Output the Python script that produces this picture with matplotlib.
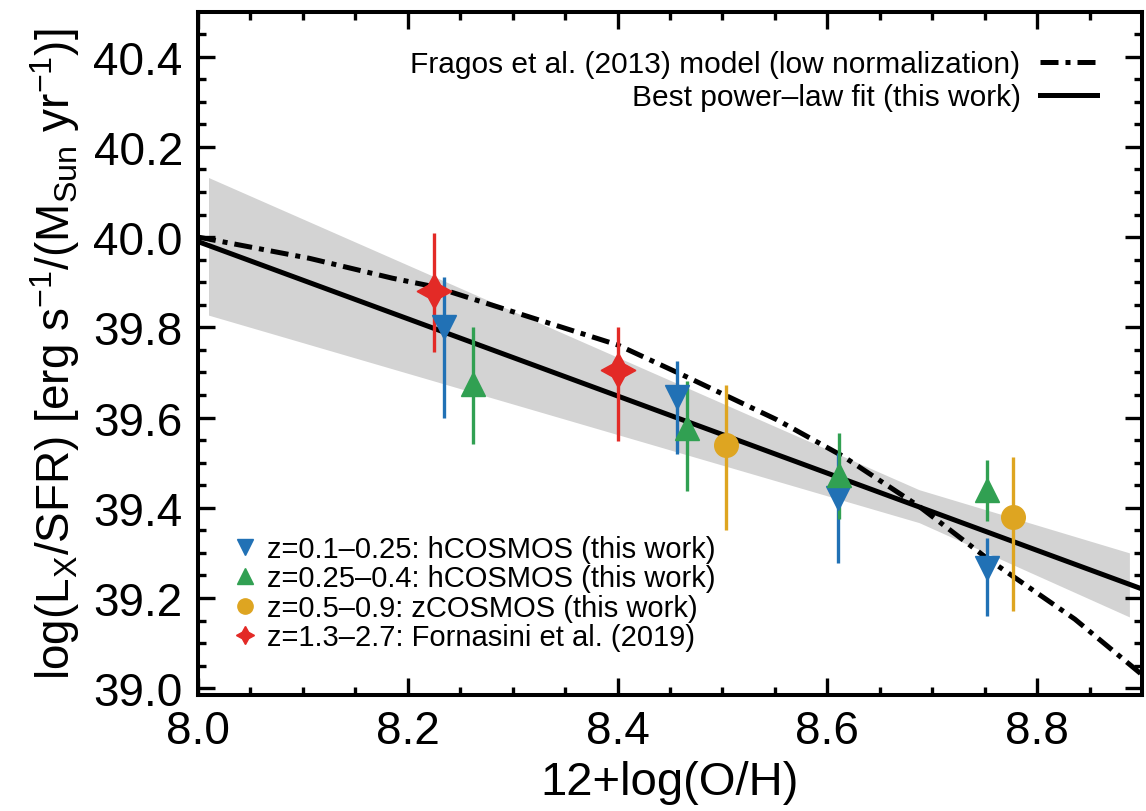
import matplotlib
matplotlib.use('Agg')
import matplotlib.pyplot as plt
from matplotlib.lines import Line2D

# ---- data ----
# z=0.1-0.25 hCOSMOS (down triangles)
blue_x = [8.2345, 8.457, 8.610, 8.752]
blue_y = [39.80, 39.645, 39.422, 39.267]
blue_lo = [0.20, 0.125, 0.145, 0.108]
blue_hi = [0.112, 0.08, 0.10, 0.066]

# z=0.25-0.4 hCOSMOS (up triangles)
green_x = [8.262, 8.4663, 8.611, 8.7523]
green_y = [39.675, 39.577, 39.473, 39.440]
green_lo = [0.133, 0.14, 0.098, 0.07]
green_hi = [0.125, 0.104, 0.093, 0.066]

# z=0.5-0.9 zCOSMOS (circles)
gold_x = [8.5036, 8.7766]
gold_y = [39.54, 39.380]
gold_lo = [0.19, 0.209]
gold_hi = [0.133, 0.132]

# z=1.3-2.7 Fornasini et al. (2019) (stars)
red_x = [8.225, 8.40]
red_y = [39.88, 39.706]
red_lo = [0.134, 0.157]
red_hi = [0.13, 0.094]

# best power-law fit and its uncertainty band
fit_x = [8.0, 8.9]
fit_y = [39.99, 39.22]
band_x = [8.01, 8.6875, 8.888]
band_hi = [40.132, 39.44, 39.30]
band_lo = [39.827, 39.367, 39.158]

# Fragos et al. (2013) model, low normalization
frag_x = [8.0, 8.106, 8.185, 8.225, 8.40, 8.466, 8.552, 8.615, 8.6875, 8.754, 8.836, 8.9]
frag_y = [40.00, 39.953, 39.909, 39.89, 39.761, 39.69, 39.595, 39.514, 39.403, 39.285, 39.153, 39.03]

c_blue = '#2171b5'
c_green = '#31a052'
c_gold = '#dea521'
c_red = '#e32a26'

plt.rcParams['font.family'] = ['Liberation Sans', 'DejaVu Sans']
plt.rcParams['mathtext.fontset'] = 'custom'
plt.rcParams['mathtext.rm'] = 'Liberation Sans'
plt.rcParams['mathtext.it'] = 'Liberation Sans:italic'
plt.rcParams['mathtext.default'] = 'regular'

fig = plt.figure(figsize=(11.46, 8.12), dpi=100)
ax = fig.add_axes([0.1728, 0.1429, 0.8237, 0.8417])

ax.fill_between(band_x, band_lo, band_hi, color='#d3d3d3', lw=0, zorder=1)
dashdot = (0, (3.6, 1.4, 1.0, 1.4))
l_frag, = ax.plot(frag_x, frag_y, color='black', lw=3.6, ls=dashdot, zorder=2)
l_fit, = ax.plot(fit_x, fit_y, color='black', lw=3.6, zorder=2)

ekw = dict(ls='none', elinewidth=2.4, capsize=0, zorder=4)
star = (4, 1, 0)
ax.errorbar(red_x, red_y, yerr=[red_lo, red_hi], marker=star, ms=25,
            color=c_red, mec=c_red, **ekw)
ax.errorbar(blue_x, blue_y, yerr=[blue_lo, blue_hi], marker='v', ms=17,
            color=c_blue, mec=c_blue, **ekw)
ax.errorbar(green_x, green_y, yerr=[green_lo, green_hi], marker='^', ms=17,
            color=c_green, mec=c_green, **ekw)
ax.errorbar(gold_x, gold_y, yerr=[gold_lo, gold_hi], marker='o', ms=17,
            color=c_gold, mec=c_gold, **ekw)

ax.set_xlim(8.0, 8.9)
ax.set_ylim(38.985, 40.5)
ax.set_xticks([8.0, 8.2, 8.4, 8.6, 8.8])
ax.set_xticks([x / 100 for x in range(805, 890, 5)], minor=True)
ax.set_yticks([39.0, 39.2, 39.4, 39.6, 39.8, 40.0, 40.2, 40.4])
ax.set_yticks([y / 100 for y in range(3900, 4050, 5)], minor=True)
ax.set_xticklabels(['8.0', '8.2', '8.4', '8.6', '8.8'])
ax.set_yticklabels(['39.0', '39.2', '39.4', '39.6', '39.8', '40.0', '40.2', '40.4'])
ax.tick_params(which='both', direction='in', top=True, right=True, width=2.4)
ax.tick_params(which='major', length=12, labelsize=33)
ax.tick_params(axis='x', which='major', pad=10)
ax.tick_params(axis='y', which='major', pad=11)
ax.tick_params(which='minor', length=6)
for s in ax.spines.values():
    s.set_linewidth(2.9)

ax.set_xlabel('12+log(O/H)', fontsize=34, labelpad=5)
ax.set_ylabel(r'log(L$_\mathrm{X}$/SFR) [erg s$^{-1}$/(M$_\mathrm{Sun}$ yr$^{-1}$)]',
              fontsize=33, labelpad=8)

leg1 = ax.legend([l_frag, l_fit],
                 ['Fragos et al. (2013) model (low normalization)',
                  'Best power\u2013law fit (this work)'],
                 loc='upper right', bbox_to_anchor=(0.952, 0.943), frameon=False,
                 fontsize=21.5, markerfirst=False, handlelength=1.9,
                 handletextpad=0.65, labelspacing=0.16,
                 borderpad=0, borderaxespad=0)
ax.add_artist(leg1)

h = [Line2D([], [], ls='none', marker='v', ms=11, color=c_blue),
     Line2D([], [], ls='none', marker='^', ms=11, color=c_green),
     Line2D([], [], ls='none', marker='o', ms=11, color=c_gold),
     Line2D([], [], ls='none', marker=star, ms=13, color=c_red)]
ax.legend(h, ['z=0.1\u20130.25: hCOSMOS (this work)',
              'z=0.25\u20130.4: hCOSMOS (this work)',
              'z=0.5\u20130.9: zCOSMOS (this work)',
              'z=1.3\u20132.7: Fornasini et al. (2019)'],
          loc='lower left', bbox_to_anchor=(0.034, 0.064), frameon=False,
          fontsize=21, handlelength=1.0, handletextpad=0.25, labelspacing=0.05,
          borderpad=0, borderaxespad=0)

plt.savefig('out.png', dpi=100)
